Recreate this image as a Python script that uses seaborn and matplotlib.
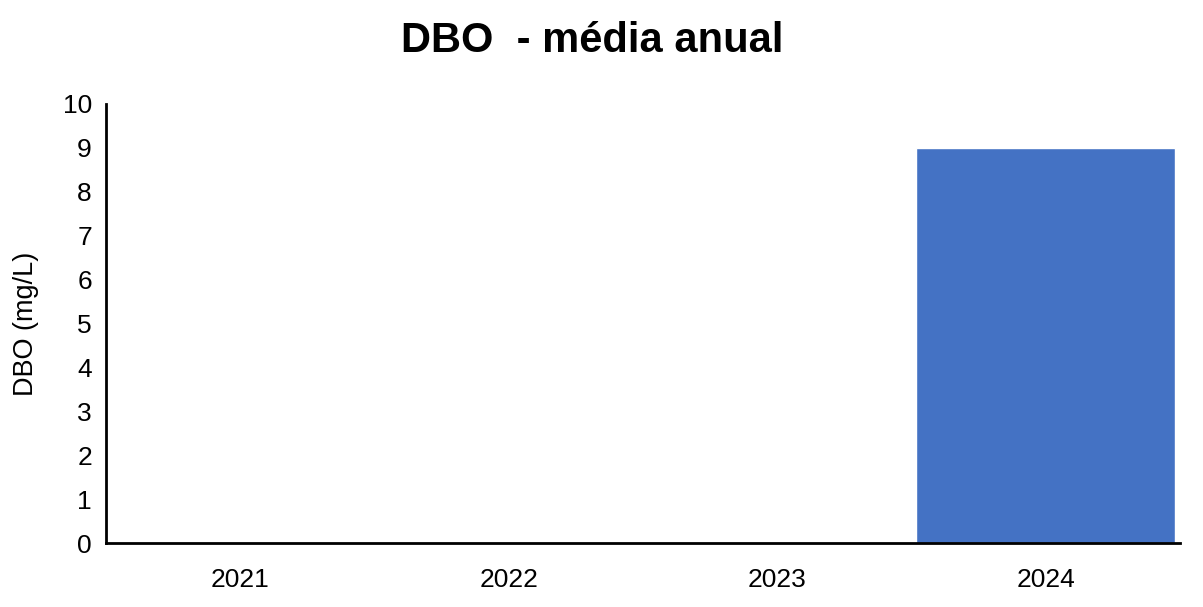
import pandas as pd
import seaborn as sns
import matplotlib.pyplot as plt

anos = ['2021', '2022', '2023', '2024']
dbo = [0, 0, 0, 9]

df = pd.DataFrame({'Ano': anos, 'DBO': dbo})

sns.set_style('white')
plt.rcParams['font.family'] = ['Liberation Sans', 'DejaVu Sans']
plt.rcParams['text.color'] = 'black'
plt.rcParams['axes.labelcolor'] = 'black'
plt.rcParams['xtick.color'] = 'black'
plt.rcParams['ytick.color'] = 'black'

fig = plt.figure(figsize=(12.03, 6.07), dpi=100)
ax = fig.add_axes([0.088, 0.105, 0.893, 0.724])
sns.barplot(x='Ano', y='DBO', data=df, color='#4472C4', saturation=1, width=0.965, ax=ax)

ax.set_ylim(0, 10)
ax.set_yticks(range(0, 11))
ax.set_xlabel('')
ax.set_ylabel('DBO (mg/L)', fontsize=19.5, labelpad=17)
ax.tick_params(axis='y', labelsize=19, length=0, pad=10)
ax.tick_params(axis='x', labelsize=19, length=0, pad=18)
fig.suptitle('DBO  - média anual', fontsize=30, fontweight='bold', x=0.492, y=0.965)

sns.despine(ax=ax)
for s in ['left', 'bottom']:
    ax.spines[s].set_color('black')
    ax.spines[s].set_linewidth(2)

fig.savefig('out.png', dpi=100)
